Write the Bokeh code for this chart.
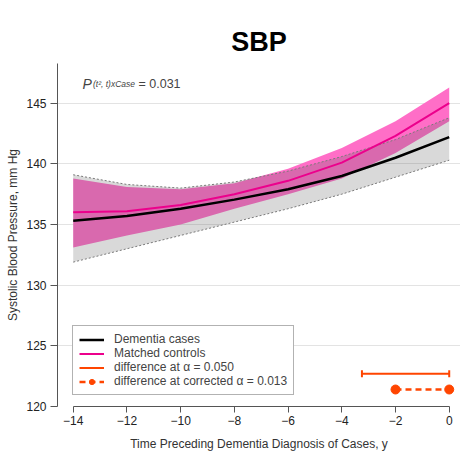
import numpy as np
from bokeh.plotting import figure
from bokeh.models import Legend, LegendItem, Label, FixedTicker, Range1d, ColumnDataSource, Title
from bokeh.embed import file_html
from bokeh.resources import INLINE

# ---------------- data ----------------
years = [-14, -12, -10, -8, -6, -4, -2, 0]
cases_mean = [135.3, 135.7, 136.3, 137.05, 137.9, 139.0, 140.5, 142.2]
cases_lower = [131.9, 133.0, 134.1, 135.2, 136.3, 137.5, 138.9, 140.3]
cases_upper = [139.1, 138.3, 138.0, 138.5, 139.4, 140.6, 142.0, 143.8]
controls_mean = [136.0, 136.1, 136.6, 137.5, 138.6, 140.1, 142.3, 145.0]
controls_lower = [133.1, 134.1, 135.0, 136.3, 137.5, 138.8, 140.9, 143.5]
controls_upper = [138.8, 138.1, 137.9, 138.4, 139.6, 141.3, 143.5, 146.3]

diff050_x = [-3.25, 0.0]
diff050_y = [122.7, 122.7]
diff013_x = [-2.0, 0.0]
diff013_y = [121.4, 121.4]

x_ticks = [-14, -12, -10, -8, -6, -4, -2, 0]
y_ticks = [120, 125, 130, 135, 140, 145]

FONT = "Liberation Sans"
PINK_FILL = "#FF6EC7"
PINK_LINE = "#EC008C"
ORANGE = "#FF4500"

src = ColumnDataSource(dict(x=years, cm=cases_mean, cl=cases_lower, cu=cases_upper,
                            km=controls_mean, kl=controls_lower, ku=controls_upper))

p = figure(width=460, height=459, x_range=Range1d(-14.585, 0.42), y_range=Range1d(120, 148.27),
           output_backend="svg", toolbar_location=None, title_location=None,
           min_border_left=57, min_border_top=63, min_border_bottom=53, min_border_right=0)
p.outline_line_color = None

# bands
p.varea(x="x", y1="kl", y2="ku", source=src, fill_color=PINK_FILL, fill_alpha=1.0)
p.varea(x="x", y1="cl", y2="cu", source=src, fill_color="#5a5a5a", fill_alpha=0.23)
p.line(x="x", y="cu", source=src, line_color="#7a7a7a", line_width=1, line_dash="2 2")
p.line(x="x", y="cl", source=src, line_color="#7a7a7a", line_width=1, line_dash="2 2")

r_cases = p.line(x="x", y="cm", source=src, line_color="black", line_width=2.5)
r_ctrl = p.line(x="x", y="km", source=src, line_color=PINK_LINE, line_width=2)

r_d050 = p.line(x=diff050_x, y=diff050_y, line_color=ORANGE, line_width=2)
p.scatter(x=diff050_x, y=diff050_y, marker="dash", angle=np.pi / 2, size=7,
          line_color=ORANGE, line_width=2)
r_d013 = p.line(x=diff013_x, y=diff013_y, line_color=ORANGE, line_width=2.5, line_dash="6 4")
r_d013p = p.scatter(x=diff013_x, y=diff013_y, marker="circle", size=9,
                    fill_color=ORANGE, line_color=ORANGE)

# title: an invisible spacer next to the frame, then the real title above it
spacer = Title(text=".", text_alpha=0.0, text_font=FONT, text_font_size="10px", standoff=17)
p.add_layout(spacer, "above")
main_title = Title(text="SBP", align="center", text_font=FONT, text_font_size="27px",
                   text_font_style="bold", text_color="black", standoff=13)
p.add_layout(main_title, "above")

# axes
p.xgrid.visible = False
p.ygrid.grid_line_color = "#e3e3e3"
p.xaxis.ticker = FixedTicker(ticks=x_ticks)
p.yaxis.ticker = FixedTicker(ticks=y_ticks)
p.xaxis.bounds = (-14, 0)
for ax in (p.xaxis, p.yaxis):
    ax.axis_line_color = "#555555"
    ax.major_tick_line_color = "#555555"
    ax.minor_tick_line_color = None
    ax.major_tick_in = 0
    ax.major_label_text_font = FONT
    ax.major_label_text_font_size = "12px"
    ax.major_label_text_color = "#222222"
    ax.axis_label_text_font = FONT
    ax.axis_label_text_font_size = "12px"
    ax.axis_label_text_font_style = "normal"
    ax.axis_label_text_color = "#333333"
p.xaxis.major_tick_out = 6
p.yaxis.major_tick_out = 7
p.xaxis.major_label_standoff = 3
p.yaxis.major_label_standoff = 4
p.xaxis.axis_label = "Time Preceding Dementia Diagnosis of Cases, y"
p.yaxis.axis_label = "Systolic Blood Pressure, mm Hg"
p.xaxis.axis_label_standoff = 9
p.yaxis.axis_label_standoff = 3

# annotation
ax0, ay0 = -13.654, 146.62
p.add_layout(Label(x=ax0, y=ay0, text="P", text_font=FONT, text_font_size="14px",
                   text_font_style="italic", text_baseline="alphabetic"))
p.add_layout(Label(x=ax0, y=ay0, x_offset=10.5, text="(t², t)xCase", text_font=FONT,
                   text_font_size="8.5px", text_font_style="italic", text_color="#444444",
                   text_baseline="alphabetic"))
p.add_layout(Label(x=ax0, y=ay0, x_offset=56, text="= 0.031", text_font=FONT,
                   text_font_size="12.5px", text_baseline="alphabetic"))

# legend
legend = Legend(items=[
    LegendItem(label="Dementia cases", renderers=[r_cases]),
    LegendItem(label="Matched controls", renderers=[r_ctrl]),
    LegendItem(label="difference at α = 0.050", renderers=[r_d050]),
    LegendItem(label="difference at corrected α = 0.013", renderers=[r_d013, r_d013p]),
], location=(15, 11))
legend.border_line_color = "#666666"
legend.border_line_width = 1
legend.background_fill_alpha = 1
legend.label_text_font = FONT
legend.label_text_font_size = "12px"
legend.glyph_width = 25
legend.glyph_height = 13
legend.label_height = 13
legend.label_standoff = 10
legend.spacing = 0
legend.padding = 6
legend.margin = 0
p.add_layout(legend)

open("out.html", "w").write(file_html(p, INLINE))
